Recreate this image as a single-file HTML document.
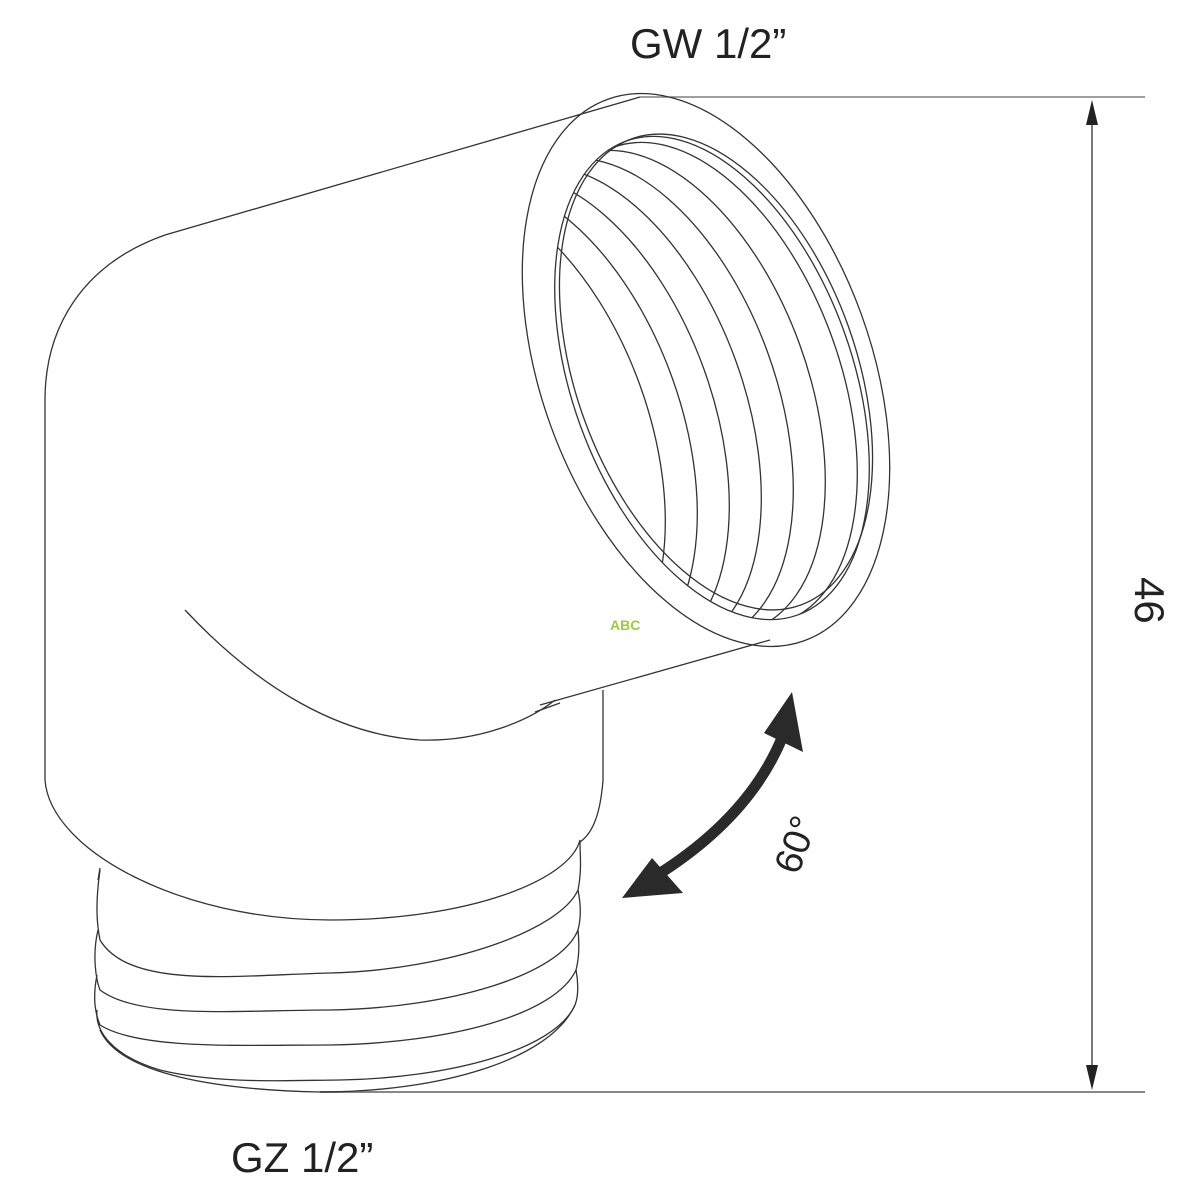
<!DOCTYPE html>
<html><head><meta charset="utf-8"><style>
html,body{margin:0;padding:0;background:#fff}
svg{display:block}
text{font-family:"Liberation Sans",sans-serif;fill:#222}
</style></head><body>
<svg width="1200" height="1200" viewBox="0 0 1200 1200" xmlns="http://www.w3.org/2000/svg">
<defs>
<clipPath id="inner"><ellipse cx="712" cy="378" rx="140" ry="252" transform="rotate(-20 712 378)"/></clipPath>
</defs>
<g fill="none" stroke="#333" stroke-width="1.3">
<line x1="640" y1="97" x2="1145" y2="97" stroke="#666"/>
<line x1="320" y1="1092" x2="1145" y2="1092" stroke="#888" stroke-width="2"/>
<line x1="1092" y1="110" x2="1092" y2="1080"/>
<path d="M640,97 L165,235 C80,265 45,330 45,400 L45,780 C50,850 180,920 330,920 C470,920 570,880 580,840"/>
<path d="M770,640 L540,705"/>
<path d="M603,690 L603,780 C600,820 590,835 580,842"/>
<path d="M185,610 C260,690 340,735 420,740 C480,742 530,720 555,700"/>
<path d="M535,712 L560,703"/>
<path d="M100,868 L98,880"/>
<path d="M100,870 C95,905 97,925 100,940 C130,990 240,975 330,973 C450,970 560,930 578,890 C582,870 580,855 580,842"/>
<path d="M98,930 C92,955 96,980 100,990 C140,1020 240,1010 330,1010 C450,1008 560,975 578,930 C582,915 580,900 578,890"/>
<path d="M97,975 C92,1000 96,1015 100,1025 C140,1050 240,1045 330,1045 C450,1043 555,1015 576,970 C580,955 579,940 578,930"/>
<path d="M97,1010 C95,1030 110,1055 160,1070 C220,1085 300,1080 340,1080 C450,1078 555,1050 575,1005 C579,995 578,980 576,970"/>
<path d="M100,1030 C120,1075 220,1090 320,1092 C440,1092 550,1060 575,1005"/>
<ellipse cx="706" cy="370" rx="165" ry="288" transform="rotate(-20 706 370)"/>
<ellipse cx="712" cy="378" rx="140" ry="252" transform="rotate(-20 712 378)"/>
<ellipse cx="716" cy="372" rx="140" ry="248" transform="rotate(-20 716 372)"/>
<g clip-path="url(#inner)">
<ellipse cx="700" cy="384" rx="140" ry="252" transform="rotate(-20 700 384)"/>
<ellipse cx="668" cy="392" rx="140" ry="252" transform="rotate(-20 668 392)"/>
<ellipse cx="636" cy="400" rx="140" ry="252" transform="rotate(-20 636 400)"/>
<ellipse cx="604" cy="408" rx="140" ry="252" transform="rotate(-20 604 408)"/>
<ellipse cx="572" cy="416" rx="140" ry="252" transform="rotate(-20 572 416)"/>
<ellipse cx="540" cy="424" rx="140" ry="252" transform="rotate(-20 540 424)"/>
<ellipse cx="508" cy="432" rx="140" ry="252" transform="rotate(-20 508 432)"/>
</g>
</g>
<polygon points="1092,100 1086,125 1098,125" fill="#222"/>
<polygon points="1092,1090 1086,1065 1098,1065" fill="#222"/>
<path d="M662,872 Q750,815 782,738" fill="none" stroke="#2a2a2a" stroke-width="11"/>
<polygon points="792,692 764,733 803,752" fill="#2a2a2a"/>
<polygon points="622,898 652,858 683,893" fill="#2a2a2a"/>
<text x="0" y="0" font-size="38" transform="translate(798,876) rotate(-70)">60°</text>
<text x="630" y="58" font-size="42">GW 1/2”</text>
<text x="231" y="1172" font-size="42">GZ 1/2”</text>
<text x="0" y="0" font-size="42" transform="translate(1135,577) rotate(90)">46</text>
<text x="610" y="630" font-size="14" font-weight="bold" style="fill:#9ccc3c">ABC</text>
</svg>
</body></html>
